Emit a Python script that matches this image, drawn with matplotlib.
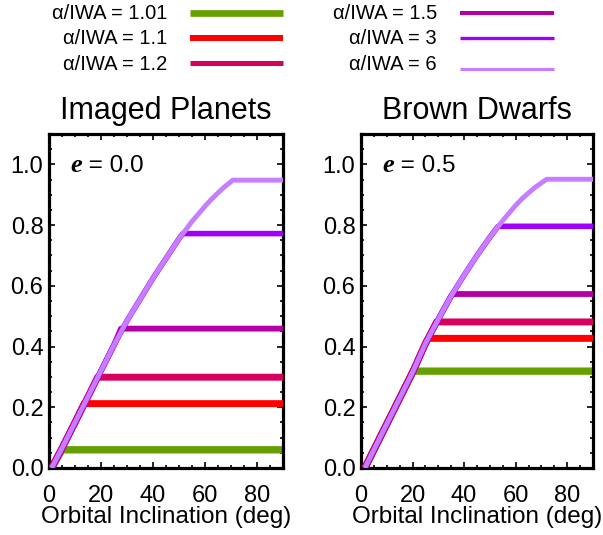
import matplotlib
matplotlib.use('Agg')
import matplotlib.pyplot as plt
from matplotlib.lines import Line2D
from matplotlib.ticker import MultipleLocator

# ---------------- data ----------------
labels = ['α/IWA = 1.01', 'α/IWA = 1.1', 'α/IWA = 1.2',
          'α/IWA = 1.5', 'α/IWA = 3', 'α/IWA = 6']
colors = ['#66a000', '#ff0000', '#d6005f', '#b500a6', '#a000f8', '#c77dff']
panel_titles = ['Imaged Planets', 'Brown Dwarfs']
ecc_values = ['0.0', '0.5']
xlabel = 'Orbital Inclination (deg)'
xticks = [0, 20, 40, 60, 80]
yticks = [0.0, 0.2, 0.4, 0.6, 0.8, 1.0]

# rising envelope (shared part of all curves), e = 0.0
env0_x = [1.0, 5, 10, 15, 20, 25, 30, 35, 40, 45, 50, 55, 60, 62.5, 65, 67.5, 70.7]
env0_y = [0.0, 0.065, 0.15, 0.235, 0.32, 0.405, 0.485, 0.555, 0.625, 0.69, 0.755, 0.812, 0.862,
          0.885, 0.906, 0.926, 0.948]
# plateau onset inclination and plateau value, e = 0.0
plat0_x = [5.0, 13.5, 18.7, 27.7, 51.5, 70.7]
plat0_y = [0.060, 0.212, 0.299, 0.459, 0.772, 0.948]

# e = 0.5
env1_x = [1.5, 5, 10, 15, 20, 25, 30, 35, 40, 45, 50, 55, 60, 62.5, 65, 67.5, 72.0]
env1_y = [0.0, 0.06, 0.145, 0.23, 0.315, 0.41, 0.49, 0.567, 0.635, 0.70, 0.76, 0.815, 0.865,
          0.887, 0.906, 0.924, 0.951]
plat1_x = [20.3, 26.1, 29.3, 35.8, 53.2, 72.0]
plat1_y = [0.319, 0.427, 0.481, 0.573, 0.796, 0.951]

panels = [(env0_x, env0_y, plat0_x, plat0_y), (env1_x, env1_y, plat1_x, plat1_y)]

# ---------------- style ----------------
W, H = 603, 535
FONT = 'Liberation Sans'
plt.rcParams['font.family'] = [FONT, 'DejaVu Sans']
plot_lw = [5.3, 5.0, 5.0, 4.2, 4.0, 3.5]
leg_lw = [4.8, 4.3, 3.6, 2.9, 2.4, 2.2]

fig = plt.figure(figsize=(W / 100, H / 100), dpi=100)


def px_rect(x0, y0, x1, y1):
    return [x0 / W, 1 - y1 / H, (x1 - x0) / W, (y1 - y0) / H]


axes_px = [(49, 134, 283, 468), (361, 134, 593, 468)]

for k, (ex, ey, px_, py_) in enumerate(panels):
    ax = fig.add_axes(px_rect(*axes_px[k]))
    for i in range(len(labels)):
        xs = [x for x in ex if x < px_[i]] + [px_[i], 90]
        ys = [y for x, y in zip(ex, ey) if x < px_[i]] + [py_[i], py_[i]]
        ax.plot(xs, ys, color=colors[i], lw=plot_lw[i], solid_capstyle='butt',
                solid_joinstyle='round', zorder=2 + i)
    ax.set_xlim(0, 90)
    ax.set_ylim(0, 1.1)
    ax.set_xticks(xticks)
    ax.set_yticks(yticks)
    ax.set_yticklabels([f'{v:.1f}' for v in yticks])
    ax.xaxis.set_minor_locator(MultipleLocator(5))
    ax.yaxis.set_minor_locator(MultipleLocator(0.05))
    ax.tick_params(which='both', direction='in', top=True, right=True,
                   labelsize=17, width=1.2, color='black')
    ax.tick_params(which='major', length=4)
    ax.tick_params(which='minor', length=2.2)
    ax.tick_params(axis='x', pad=12)
    ax.tick_params(axis='y', pad=4)
    for s in ax.spines.values():
        s.set_linewidth(2.3)
    for lbl in ax.get_xticklabels() + ax.get_yticklabels():
        lbl.set_fontfamily(FONT)

    x0, y0, x1, y1 = axes_px[k]
    cx = (x0 + x1) / 2
    fig.text(cx / W, 1 - 119 / H, panel_titles[k], fontsize=22, ha='center',
             va='baseline', family=FONT)
    fig.text(cx / W, 1 - 523 / H, xlabel, fontsize=17.5, ha='center',
             va='baseline', family=FONT)

    t1 = ax.text(0.09, 0.905, 'e', transform=ax.transAxes, fontsize=19,
                 fontweight='bold', fontstyle='italic', family='Liberation Serif',
                 va='center', ha='left')
    ax.annotate(' = ' + ecc_values[k], xy=(1, 0), xycoords=t1, fontsize=17.5,
                family=FONT, va='bottom', ha='left')

# ---------------- legend ----------------
rows_y = [13.3, 38.3, 63.3, 13.3, 38.3, 69.0]
text_right = [167, 167, 167, 437, 437, 437]
line_x = [(190, 283)] * 3 + [(460, 554)] * 3
for i in range(len(labels)):
    y = rows_y[i]
    ty = [13.3, 38.3, 65.0][i % 3]
    fig.text(text_right[i] / W, 1 - ty / H, labels[i], fontsize=14.5,
             ha='right', va='center', family=FONT)
    xa, xb = line_x[i]
    fig.add_artist(Line2D([xa / W, xb / W], [1 - y / H, 1 - y / H],
                          transform=fig.transFigure, color=colors[i],
                          lw=leg_lw[i], solid_capstyle='butt'))

fig.savefig('out.png', dpi=100)
